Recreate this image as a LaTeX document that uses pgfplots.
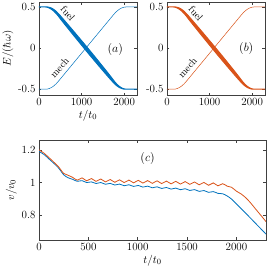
\documentclass[border=0pt]{standalone}
\usepackage{pgfplots}
\pgfplotsset{compat=1.18}
\definecolor{mblue}{rgb}{0,0.447,0.741}
\definecolor{morange}{rgb}{0.85,0.325,0.098}
\begin{document}
\begin{tikzpicture}
\useasboundingbox (0,0) rectangle (269pt,274pt);
\pgfplotsset{
  every axis/.append style={
    scale only axis,
    axis line style={black!75,line width=0.4pt},
    every tick/.style={black!75,line width=0.4pt},
    major tick length=2.5pt,
    font=\fontsize{11}{13}\selectfont,
    tick label style={font=\fontsize{11}{13}\selectfont},
    xmin=0,xmax=2300,
    xtick={0,1000,2000}, xticklabels={0,1000,2000},
  }
}
% ---------- (a) ----------
\begin{axis}[at={(39pt,272pt)}, anchor=north west, width=98pt, height=93pt,
  ymin=-0.57, ymax=0.56, ytick={-0.5,0,0.5}, yticklabels={-0.5,0,0.5},
  xlabel={$t/t_0$}, ylabel={$E/(\hbar\omega)$},
  xlabel style={yshift=3pt}, ylabel style={yshift=-2pt}]
\addplot[fill=mblue, draw=mblue, line width=1pt] coordinates {
(0,0.5) (150,0.5) (200,0.4994) (250,0.4946) (300,0.4846) (350,0.4683) (400,0.4479) (450,0.4213)
(500,0.393) (600,0.3335) (700,0.273) (800,0.2125) (900,0.151) (1000,0.0895) (1100,0.028)
(1200,-0.0345) (1300,-0.098) (1400,-0.1615) (1500,-0.226) (1600,-0.2905) (1700,-0.357)
(1750,-0.3913) (1800,-0.4229) (1850,-0.4493) (1900,-0.4706) (1950,-0.4866) (2000,-0.4954)
(2050,-0.5) (2300,-0.5)
(2300,-0.5) (2050,-0.5) (2000,-0.4994) (1950,-0.4926) (1900,-0.4826) (1850,-0.4673)
(1800,-0.4469) (1750,-0.4213) (1700,-0.393) (1600,-0.3345) (1500,-0.274) (1400,-0.2135)
(1300,-0.152) (1200,-0.0905) (1100,-0.028) (1000,0.0355) (900,0.099) (800,0.1625)
(700,0.227) (600,0.2915) (500,0.357) (450,0.3913) (400,0.4219) (350,0.4483) (300,0.4686)
(250,0.4846) (200,0.4954) (150,0.5) (0,0.5)
};
\addplot[mblue, line width=0.5pt] coordinates {
(0,-0.5) (150,-0.5) (200,-0.4974) (250,-0.4896) (300,-0.4766) (350,-0.4583) (400,-0.4349)
(450,-0.4063) (500,-0.375) (600,-0.3125) (700,-0.25) (800,-0.1875) (900,-0.125) (1000,-0.0625)
(1100,0) (1200,0.0625) (1300,0.125) (1400,0.1875) (1500,0.25) (1600,0.3125) (1700,0.375)
(1750,0.4063) (1800,0.4349) (1850,0.4583) (1900,0.4766) (1950,0.4896) (2000,0.4974)
(2050,0.5) (2300,0.5)
};
\node[rotate=-49, font=\fontsize{10}{12}\selectfont] at (axis cs:680,0.42) {fuel};
\node[rotate=49, font=\fontsize{10}{12}\selectfont] at (axis cs:480,-0.24) {mech};
\node[font=\fontsize{12}{14}\selectfont] at (axis cs:1790,-0.02) {$(a)$};
\end{axis}
% ---------- (b) ----------
\begin{axis}[at={(167pt,272pt)}, anchor=north west, width=98pt, height=93pt,
  ymin=-0.57, ymax=0.56, ytick={-0.5,0,0.5}, yticklabels={-0.5,0,0.5}]
\addplot[fill=morange, draw=morange, line width=1pt] coordinates {
(0,0.5) (150,0.5) (200,0.4994) (250,0.4946) (300,0.4846) (350,0.4683) (400,0.4479) (450,0.4213)
(500,0.393) (600,0.3335) (700,0.273) (800,0.2125) (900,0.151) (1000,0.0895) (1100,0.028)
(1200,-0.0345) (1300,-0.098) (1400,-0.1615) (1500,-0.226) (1600,-0.2905) (1700,-0.357)
(1750,-0.3913) (1800,-0.4229) (1850,-0.4493) (1900,-0.4706) (1950,-0.4866) (2000,-0.4954)
(2050,-0.5) (2300,-0.5)
(2300,-0.5) (2050,-0.5) (2000,-0.4994) (1950,-0.4926) (1900,-0.4826) (1850,-0.4673)
(1800,-0.4469) (1750,-0.4213) (1700,-0.393) (1600,-0.3345) (1500,-0.274) (1400,-0.2135)
(1300,-0.152) (1200,-0.0905) (1100,-0.028) (1000,0.0355) (900,0.099) (800,0.1625)
(700,0.227) (600,0.2915) (500,0.357) (450,0.3913) (400,0.4219) (350,0.4483) (300,0.4686)
(250,0.4846) (200,0.4954) (150,0.5) (0,0.5)
};
\addplot[morange, line width=0.5pt] coordinates {
(0,-0.5) (150,-0.5) (200,-0.4974) (250,-0.4896) (300,-0.4766) (350,-0.4583) (400,-0.4349)
(450,-0.4063) (500,-0.375) (600,-0.3125) (700,-0.25) (800,-0.1875) (900,-0.125) (1000,-0.0625)
(1100,0) (1200,0.0625) (1300,0.125) (1400,0.1875) (1500,0.25) (1600,0.3125) (1700,0.375)
(1750,0.4063) (1800,0.4349) (1850,0.4583) (1900,0.4766) (1950,0.4896) (2000,0.4974)
(2050,0.5) (2300,0.5)
};
\node[rotate=-49, font=\fontsize{10}{12}\selectfont] at (axis cs:680,0.42) {fuel};
\node[rotate=49, font=\fontsize{10}{12}\selectfont] at (axis cs:480,-0.24) {mech};
\node[font=\fontsize{12}{14}\selectfont] at (axis cs:1860,0.0) {$(b)$};
\end{axis}
% ---------- (c) ----------
\begin{axis}[at={(39pt,134pt)}, anchor=north west, width=227pt, height=100pt,
  ymin=0.65, ymax=1.26, ytick={0.8,1,1.2}, yticklabels={0.8,1,1.2},
  xtick={0,500,1000,1500,2000}, xticklabels={0,500,1000,1500,2000},
  xlabel={$t/t_0$}, ylabel={$v/v_0$},
  xlabel style={yshift=3pt}, ylabel style={yshift=-2pt}]
\addplot[mblue, line width=0.8pt, smooth] coordinates {
(0,1.19) (50,1.172) (100,1.145) (150,1.118) (200,1.088) (250,1.048) (294,1.03)
(341,1.02) (388,1.008) (436,1.012) (483,1.0004) (531,1.0045) (578,0.9946) (626,1.0006)
(673,0.990) (721,0.9955) (768,0.9853) (816,0.9911) (863,0.981) (911,0.9869) (958,0.9768)
(1006,0.9827) (1053,0.9727) (1101,0.9786) (1148,0.9685) (1196,0.9744) (1243,0.9643)
(1291,0.9704) (1338,0.9605) (1386,0.9666) (1433,0.9567) (1481,0.9628) (1528,0.9522)
(1576,0.9574) (1623,0.9466) (1671,0.9517) (1718,0.9407) (1766,0.9452) (1813,0.9345)
(1861,0.932) (1908,0.918) (1950,0.900) (2000,0.870) (2100,0.810) (2200,0.748) (2300,0.686)
};
\addplot[morange, line width=0.8pt, smooth] coordinates {
(0,1.2) (50,1.18) (100,1.153) (150,1.125) (200,1.095) (250,1.056) (294,1.045)
(341,1.032) (388,1.015) (436,1.029) (483,1.011) (531,1.025) (578,1.0075) (626,1.022)
(673,1.0045) (721,1.019) (768,1.002) (816,1.017) (863,1.0002) (911,1.0154) (958,0.9987)
(1006,1.0139) (1053,0.9972) (1101,1.0124) (1148,0.9956) (1196,1.0109) (1243,0.9941)
(1291,1.0093) (1338,0.9926) (1386,1.0078) (1433,0.9911) (1481,1.0063) (1528,0.9895)
(1576,1.0039) (1623,0.9866) (1671,1.0012) (1718,0.9837) (1766,0.9982) (1813,0.9805)
(1861,0.9935) (1908,0.978) (1950,0.972) (2000,0.948) (2050,0.930) (2100,0.905)
(2150,0.872) (2200,0.835) (2250,0.799) (2300,0.762)
};
\node[font=\fontsize{12}{14}\selectfont] at (axis cs:1100,1.148) {$(c)$};
\end{axis}
\end{tikzpicture}
\end{document}
